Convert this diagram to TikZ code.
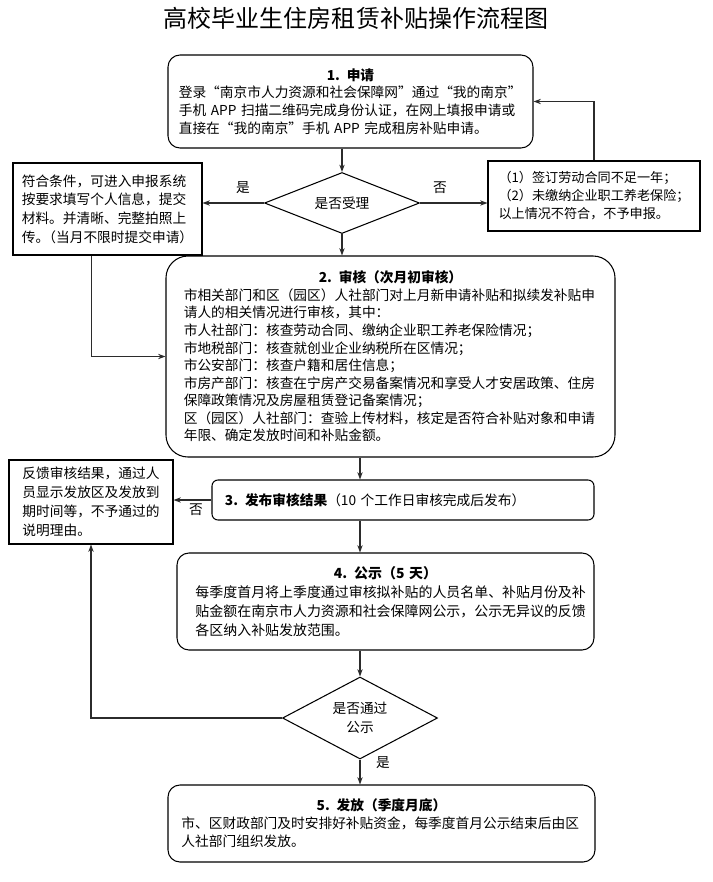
\documentclass[tikz,border=0pt]{standalone}
\usepackage{fontspec}
\setmainfont{Noto Sans CJK SC}
\usetikzlibrary{arrows.meta, shapes.geometric}
\definecolor{cline}{HTML}{2B2B2B}
\tikzset{
  every picture/.style={line width=0.9pt},
  stage/.style={draw=black, rounded corners=#1, inner sep=2pt, font=\fontsize{11.7}{15}\selectfont},
  stage/.default=0.36cm,
  aside/.style={draw=black, inner sep=2pt, align=left, font=\fontsize{11.5}{16}\selectfont},
  check/.style={draw=black, diamond, aspect=2.5, inner sep=0pt, align=center, minimum width=4.65cm, font=\fontsize{11.7}{16}\selectfont},
  arrow/.style={-{Stealth[length=2.2mm, width=1.6mm]}, draw=cline},
  yesno/.style={font=\fontsize{11.7}{14}\selectfont},
}
\begin{document}
\begin{tikzpicture}[x=0.03cm, y=-0.03cm]
  \useasboundingbox (0,0) rectangle (713,882);
  \node[font=\fontsize{20.5}{24}\selectfont] (title) at (356,18) {高校毕业生住房租赁补贴操作流程图};

  \node[stage, minimum width=10.95cm, minimum height=2.79cm, text width=10.3cm] (apply) at (350.5,101.5)
    {\centering\textbf{1. 申请}\par\raggedright
     登录“南京市人力资源和社会保障网”通过“我的南京”\\
     手机 APP 扫描二维码完成身份认证，在网上填报申请或\\
     直接在“我的南京”手机 APP 完成租房补贴申请。};
  \node[check, minimum height=1.83cm] (accept) at (342,203) {是否受理};
  \node[aside, font=\fontsize{11.7}{16}\selectfont, minimum width=5.67cm, minimum height=2.76cm] (okbox) at (107.5,209)
    {符合条件，可进入申报系统\\按要求填写个人信息，提交\\材料。并清晰、完整拍照上\\传。\kern-0.5em（当月不限时提交申请）};
  \node[aside, font=\fontsize{11.2}{15.4}\selectfont, minimum width=6.36cm, minimum height=2.1cm] (nobox) at (594,196)
    {（1）签订劳动合同不足一年；\\（2）未缴纳企业职工养老保险；\\以上情况不符合，不予申报。};
  \node[yesno] (yes1) at (243,188) {是};
  \node[yesno] (no1) at (440,188) {否};

  \node[stage=0.66cm, minimum width=13.47cm, minimum height=6.03cm, text width=12.4cm] (review) at (390.5,356.5)
    {\centering\textbf{2. 审核（次月初审核）}\par\raggedright
     市相关部门和区（园区）人社部门对上月新申请补贴和拟续发补贴申\\
     请人的相关情况进行审核，其中：\\
     市人社部门：核查劳动合同、缴纳企业职工养老保险情况；\\
     市地税部门：核查就创业企业纳税所在区情况；\\
     市公安部门：核查户籍和居住信息；\\
     市房产部门：核查在宁房产交易备案情况和享受人才安居政策、住房\\
     保障政策情况及房屋租赁登记备案情况；\\
     区（园区）人社部门：查验上传材料，核定是否符合补贴对象和申请\\
     年限、确定发放时间和补贴金额。};

  \node[stage=0.18cm, minimum width=11.46cm, minimum height=1.2cm, text width=10.68cm, align=left] (publish) at (403,500)
    {\textbf{3. 发布审核结果}（10 个工作日审核完成后发布）};
  \node[aside, font=\fontsize{11.7}{16.2}\selectfont, minimum width=4.92cm, minimum height=2.52cm] (feedback) at (91,502)
    {反馈审核结果，通过人\\员显示发放区及发放到\\期时间等，不予通过的\\说明理由。};
  \node[yesno] (no2) at (196,510) {否};

  \node[stage, font=\fontsize{11.9}{16.2}\selectfont, minimum width=12.51cm, minimum height=2.91cm, text width=11.4cm] (notice) at (385.5,601.5)
    {\centering\textbf{4. 公示（5 天）}\par\raggedright
     每季度首月将上季度通过审核拟补贴的人员名单、补贴月份及补\\
     贴金额在南京市人力资源和社会保障网公示，公示无异议的反馈\\
     各区纳入补贴发放范围。};
  \node[check, minimum height=2.46cm] (pass) at (360,718) {是否通过\\公示};
  \node[yesno] (yes2) at (383,763) {是};

  \node[stage, font=\fontsize{11.7}{15.4}\selectfont, minimum width=12.81cm, minimum height=2.31cm, text width=12cm] (pay) at (381.5,823.5)
    {\centering\textbf{5. 发放（季度月底）}\par\raggedright
     市、区财政部门及时安排好补贴资金，每季度首月公示结束后由区\\
     人社部门组织发放。};

  \draw[arrow] (accept.north |- apply.south) -- (accept.north);
  \draw[arrow] (accept.west) -- (accept.west -| okbox.east);
  \draw[arrow] (accept.east) -- (accept.east -| nobox.west);
  \draw[arrow] (nobox.north) |- (apply.east);
  \draw[arrow] ([xshift=-0.47cm]okbox.south) |- (review.west);
  \draw[arrow] (accept.south) -- (accept.south |- review.north);
  \draw[arrow] (pass.north |- review.south) -- (pass.north |- publish.north);
  \draw[arrow] (publish.west) -- (publish.west -| feedback.east);
  \draw[arrow] (pass.north |- publish.south) -- (pass.north |- notice.north);
  \draw[arrow] (pass.north |- notice.south) -- (pass.north);
  \draw[arrow] (pass.west) -| (feedback.south);
  \draw[arrow] (pass.south) -- (pass.south |- pay.north);
\end{tikzpicture}
\end{document}
